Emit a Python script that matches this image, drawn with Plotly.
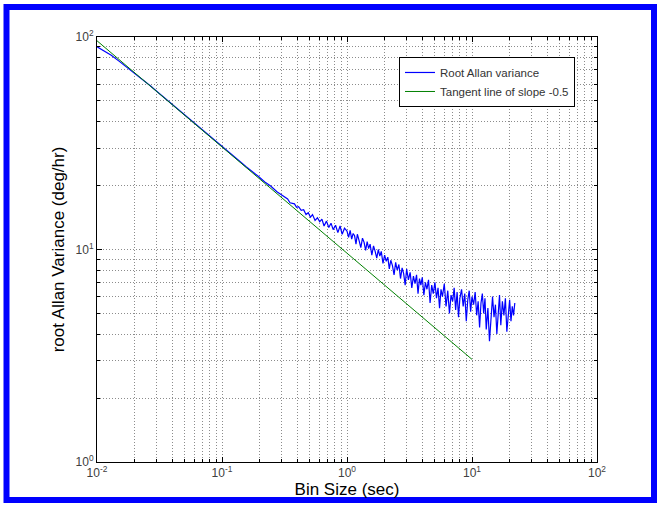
import plotly.graph_objects as go

# ---- data ----
tau = [0.010, 0.011, 0.012, 0.013, 0.015, 0.017, 0.019, 0.021, 0.024, 0.027,
       0.030, 0.034, 0.038, 0.043, 0.048, 0.054, 0.061, 0.068, 0.077, 0.086,
       0.097, 0.11, 0.12, 0.14, 0.155, 0.175, 0.195, 0.22, 0.245, 0.275, 0.31,
       0.32, 0.335, 0.35, 0.365, 0.38, 0.395, 0.41, 0.43, 0.45, 0.47, 0.49,
       0.51, 0.53, 0.555, 0.58, 0.605, 0.63, 0.655, 0.685, 0.715, 0.745,
       0.775, 0.81, 0.845, 0.88, 0.915, 0.955, 1.0,
       1.03, 1.06, 1.09, 1.12, 1.15, 1.18, 1.21, 1.25, 1.29, 1.33, 1.37, 1.41,
       1.45, 1.49, 1.53, 1.58, 1.63, 1.68, 1.73, 1.78, 1.83, 1.88, 1.94, 2.0,
       2.06, 2.12, 2.18, 2.24, 2.31, 2.38, 2.45, 2.52, 2.6, 2.68, 2.76, 2.84,
       2.92, 3.0, 3.1, 3.2, 3.3, 3.4, 3.5, 3.6, 3.7, 3.8, 3.9, 4.0, 4.12, 4.24,
       4.36, 4.49, 4.62, 4.76, 4.9, 5.05, 5.2, 5.35, 5.5, 5.65, 5.8, 6.0, 6.2,
       6.4, 6.6, 6.8, 7.0, 7.2, 7.4, 7.6, 7.8, 8.0, 8.25, 8.5, 8.75, 9.0, 9.25,
       9.5, 9.75, 10.0, 10.3, 10.6, 10.9, 11.2, 11.5, 11.8, 12.1, 12.4, 12.7,
       13.0, 13.4, 13.8, 14.2, 14.6, 15.0, 15.4, 15.8, 16.2, 16.6, 17.0, 17.5,
       18.0, 18.5, 19.0, 19.5, 20.0, 20.5, 21.0, 21.5, 22.0]

root_allan = [90.0, 87.0, 84.5, 82.0, 77.0, 72.8, 69.2, 66.1, 62.0, 58.6,
              55.6, 52.3, 49.5, 46.6, 44.1, 41.6, 39.1, 37.1, 34.9, 33.0,
              31.1, 29.3, 28.0, 25.9, 24.6, 23.3, 22.1, 20.8, 19.9, 18.7, 17.8,
              17.6, 17.3, 16.6, 16.5, 16.4, 15.8, 15.9, 15.3, 15.4, 14.6, 14.9,
              14.2, 14.6, 13.7, 14.1, 13.5, 13.9, 12.9, 13.6, 12.7, 13.3,
              12.4, 13.0, 12.0, 12.9, 11.8, 12.6, 12.2,
              11.4, 12.3, 11.2, 11.9, 11.6, 10.6, 11.8, 11.0, 10.2, 11.3, 10.8, 9.9,
              10.9, 10.1, 10.6, 9.4, 10.4, 9.8, 9.1, 10.0, 9.3, 9.8, 8.6, 9.4,
              8.8, 9.2, 8.1, 8.9, 8.4, 7.6, 8.7, 8.0, 8.5, 7.3, 8.2, 7.7,
              6.8, 8.1, 7.2, 7.8, 6.6, 7.5, 6.9, 7.6, 6.2, 7.3, 6.8, 7.4, 6.1, 7.0,
              6.5, 7.2, 5.6, 6.8, 6.2, 7.0, 5.9, 6.6, 5.3, 6.5, 6.0, 6.9, 5.4,
              6.4, 5.0, 6.1, 5.7, 6.6, 5.2, 6.3, 4.8, 5.9, 6.5, 5.4, 6.2, 4.6, 5.8,
              6.4, 5.1, 6.0, 5.5, 6.3, 4.9, 5.7, 4.3, 5.6, 6.2, 5.0, 5.9,
              4.2, 5.3, 3.7, 5.1, 6.0, 4.8, 5.5, 4.0, 5.2, 6.1, 4.4, 5.7,
              4.9, 5.9, 4.1, 5.0, 5.8, 4.6, 5.4, 4.9, 5.6]

tangent_tau = [0.01, 10.0]
tangent_val = [96.0, 3.04]

tick_vals = [0.01, 0.1, 1, 10, 100]
x_tick_text = ["10<sup>-2</sup>", "10<sup>-1</sup>", "10<sup>0</sup>",
               "10<sup>1</sup>", "10<sup>2</sup>"]
y_tick_vals = [1, 10, 100]
y_tick_text = ["10<sup>0</sup>", "10<sup>1</sup>", "10<sup>2</sup>"]

FONT = "Liberation Sans, Arial, sans-serif"
GRID = "#8c8c8c"
DOT = "1px,2px"

fig = go.Figure()
fig.add_trace(go.Scatter(x=tau, y=root_allan, mode="lines",
                         name="Root Allan variance",
                         line=dict(color="#0000ff", width=1.2)))
fig.add_trace(go.Scatter(x=tangent_tau, y=tangent_val, mode="lines",
                         name="Tangent line of slope -0.5",
                         line=dict(color="#008000", width=1)))

axis_common = dict(
    type="log", showline=True, linecolor="black", linewidth=1, mirror="ticks",
    ticks="inside", ticklen=5, tickcolor="black",
    showgrid=True, gridcolor=GRID, griddash=DOT, gridwidth=1,
    zeroline=False, automargin=False,
    tickfont=dict(family=FONT, size=12, color="#404040"),
    minor=dict(ticks="inside", ticklen=3, tickcolor="black", dtick="D1",
               showgrid=True, gridcolor=GRID, griddash=DOT, gridwidth=1),
)

fig.update_layout(
    width=661, height=506,
    margin=dict(l=97, r=64, t=37, b=44),
    paper_bgcolor="white", plot_bgcolor="white",
    font=dict(family=FONT),
    xaxis=dict(axis_common, range=[-2, 2], tickmode="array",
               tickvals=tick_vals, ticktext=x_tick_text,
               title=dict(text="Bin Size (sec)", standoff=0,
                          font=dict(family=FONT, size=17, color="black"))),
    yaxis=dict(axis_common, range=[0, 2], tickmode="array",
               tickvals=y_tick_vals, ticktext=y_tick_text,
               title=dict(text="root Allan Variance (deg/hr)", standoff=6,
                          font=dict(family=FONT, size=17, color="black"))),
    legend=dict(x=0.604, y=0.953, xanchor="left", yanchor="top",
                bgcolor="white", bordercolor="black", borderwidth=1,
                font=dict(family=FONT, size=11.5, color="#333333"),
                tracegroupgap=0),
    showlegend=True,
    shapes=[dict(type="rect", xref="paper", yref="paper",
                 x0=-0.181, x1=1.114, y0=-0.0894, y1=1.0706,
                 line=dict(color="#0000ff", width=6), fillcolor="rgba(0,0,0,0)")],
)

fig.write_html("out.html",
               config={"displayModeBar": False},
               post_script="document.body.style.margin='0px';"
                           "document.body.style.overflow='hidden';")
